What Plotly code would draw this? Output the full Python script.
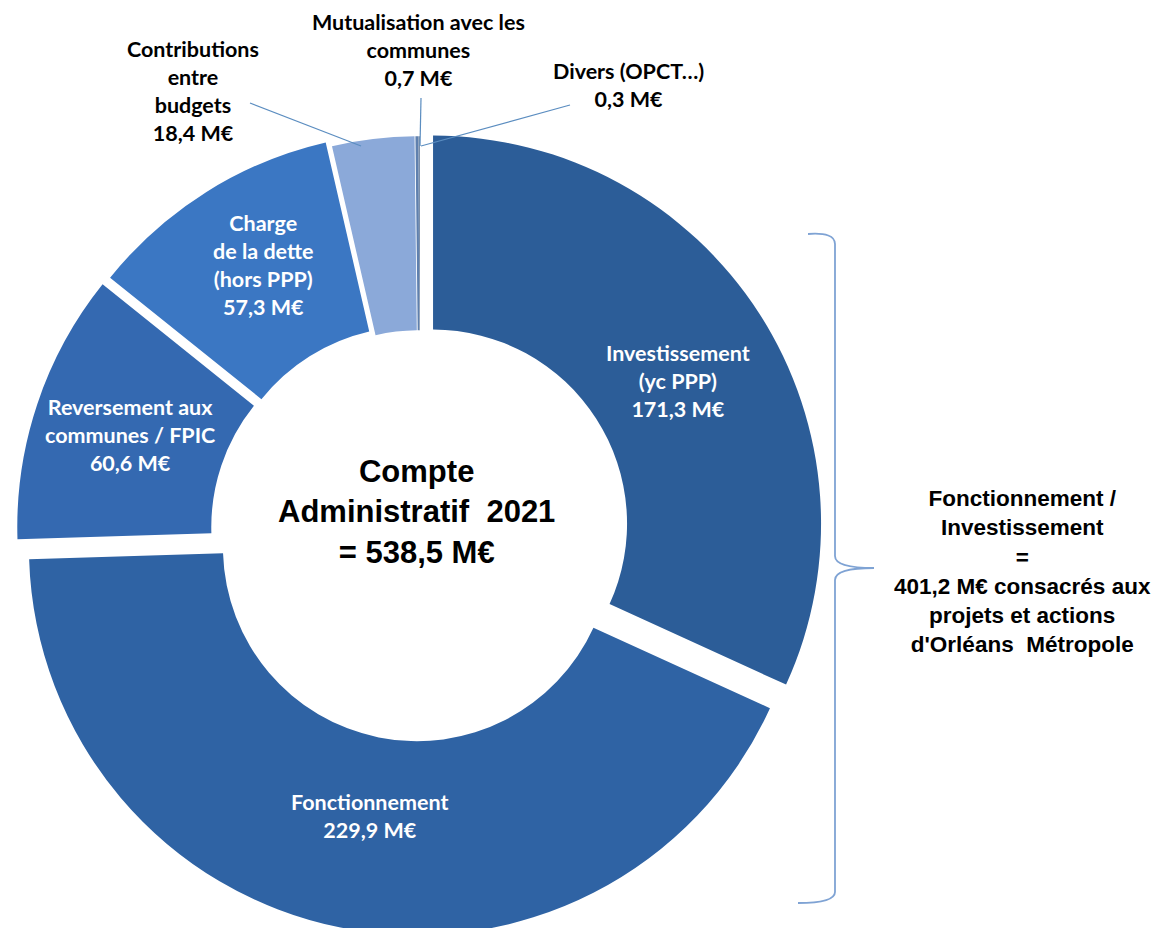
import plotly.graph_objects as go

W, H = 1162, 928

# données (M€)
postes = [
    "Investissement (yc PPP)",
    "Fonctionnement",
    "Reversement aux communes / FPIC",
    "Charge de la dette (hors PPP)",
    "Contributions entre budgets",
    "Mutualisation avec les communes",
    "Divers (OPCT…)",
]
montants = [171.3, 229.9, 60.6, 57.3, 18.4, 0.7, 0.3]
etiquettes = [
    "Investissement<br>(yc PPP)<br>171,3 M€",
    "Fonctionnement<br>229,9 M€",
    "Reversement aux<br>communes / FPIC<br>60,6 M€",
    "Charge<br>de la dette<br>(hors PPP)<br>57,3 M€",
    "Contributions<br>entre<br>budgets<br>18,4 M€",
    "Mutualisation avec les<br>communes<br>0,7 M€",
    "Divers (OPCT…)<br>0,3 M€",
]
couleurs = ["#2C5D98", "#2F63A4", "#3469B1", "#3B77C3", "#8BA9D9", "#5F80AE", "#7B8EA8"]
ecart = [0.04, 0.04, 0.04, 0.035, 0.02, 0.02, 0.02]
total = 538.5
total_fi = 401.2


def px(x, y):
    """pixels -> coordonnées paper"""
    return x / W, 1 - y / H


def texte(fig, tx, ty, txt, size, color, family="Lato"):
    x, y = px(tx, ty)
    fig.add_annotation(
        x=x, y=y, xref="paper", yref="paper", text=txt,
        xanchor="center", yanchor="middle",
        showarrow=False, align="center",
        font={"family": family, "size": size, "color": color, "weight": "bold"},
    )


# domaine du donut (centre ~ (412, 524), rayon ~388)
cx, cy, r = 412, 524, 388
half = r * (1 + max(ecart))
x0, y1 = px(cx - half, cy - half)
x1, y0 = px(cx + half, cy + half)

fig = go.Figure()
fig.add_trace(go.Pie(
    labels=postes, values=montants,
    sort=False, direction="clockwise", rotation=0,
    hole=0.5, pull=ecart,
    marker={"colors": couleurs, "line": {"width": 0}},
    textinfo="none",
    domain={"x": [x0, x1], "y": [y0, y1]},
    showlegend=False, hoverinfo="label+value",
))

# libellés dans les secteurs (blanc)
pos_int = [(670, 373), (361, 808), (122, 427), (255, 257)]
for i, (tx, ty) in enumerate(pos_int):
    texte(fig, tx, ty, etiquettes[i], 21.5, "white")

# libellés extérieurs des petits postes, avec traits de rappel
exterieurs = [
    (4, 185, 83, (242, 95), (353, 138)),
    (5, 410, 42, (413, 90), (412, 138)),
    (6, 620, 77, (562, 97), (413, 138)),
]
for i, tx, ty, (ax, ay), (bx, by) in exterieurs:
    texte(fig, tx, ty, etiquettes[i], 21.5, "black")
    xa, ya = px(ax, ay)
    xb, yb = px(bx, by)
    fig.add_shape(type="line", xref="paper", yref="paper",
                  x0=xa, y0=ya, x1=xb, y1=yb,
                  line={"color": "#5B8DC0", "width": 1.2})

# texte central
texte(fig, 409, 504,
      f"Compte<br>Administratif  2021<br>= {str(total).replace('.', ',')} M€",
      31, "black", "Liberation Sans")

# accolade à droite
def p(xp, yp):
    a, b = px(xp, yp)
    return f"{a:.5f},{b:.5f}"

brace = (
    f"M {p(800, 226)} Q {p(827, 224)} {p(827, 236)} "
    f"L {p(827, 548)} Q {p(827, 560)} {p(866, 560)} "
    f"Q {p(827, 560)} {p(827, 572)} "
    f"L {p(827, 884)} Q {p(827, 895)} {p(790, 895)}"
)
fig.add_shape(type="path", xref="paper", yref="paper", path=brace,
              line={"color": "#7FA3D4", "width": 1.8})

texte(fig, 1014, 563,
      ("Fonctionnement /<br>Investissement<br>=<br>"
       f"{str(total_fi).replace('.', ',')} M€ consacrés aux<br>"
       "projets et actions<br>d'Orléans  Métropole"),
      22.5, "black", "Liberation Sans")

fig.update_layout(
    width=W, height=H, margin={"l": 0, "r": 0, "t": 0, "b": 0},
    paper_bgcolor="white", plot_bgcolor="white",
)
fig.write_html("out.html")
